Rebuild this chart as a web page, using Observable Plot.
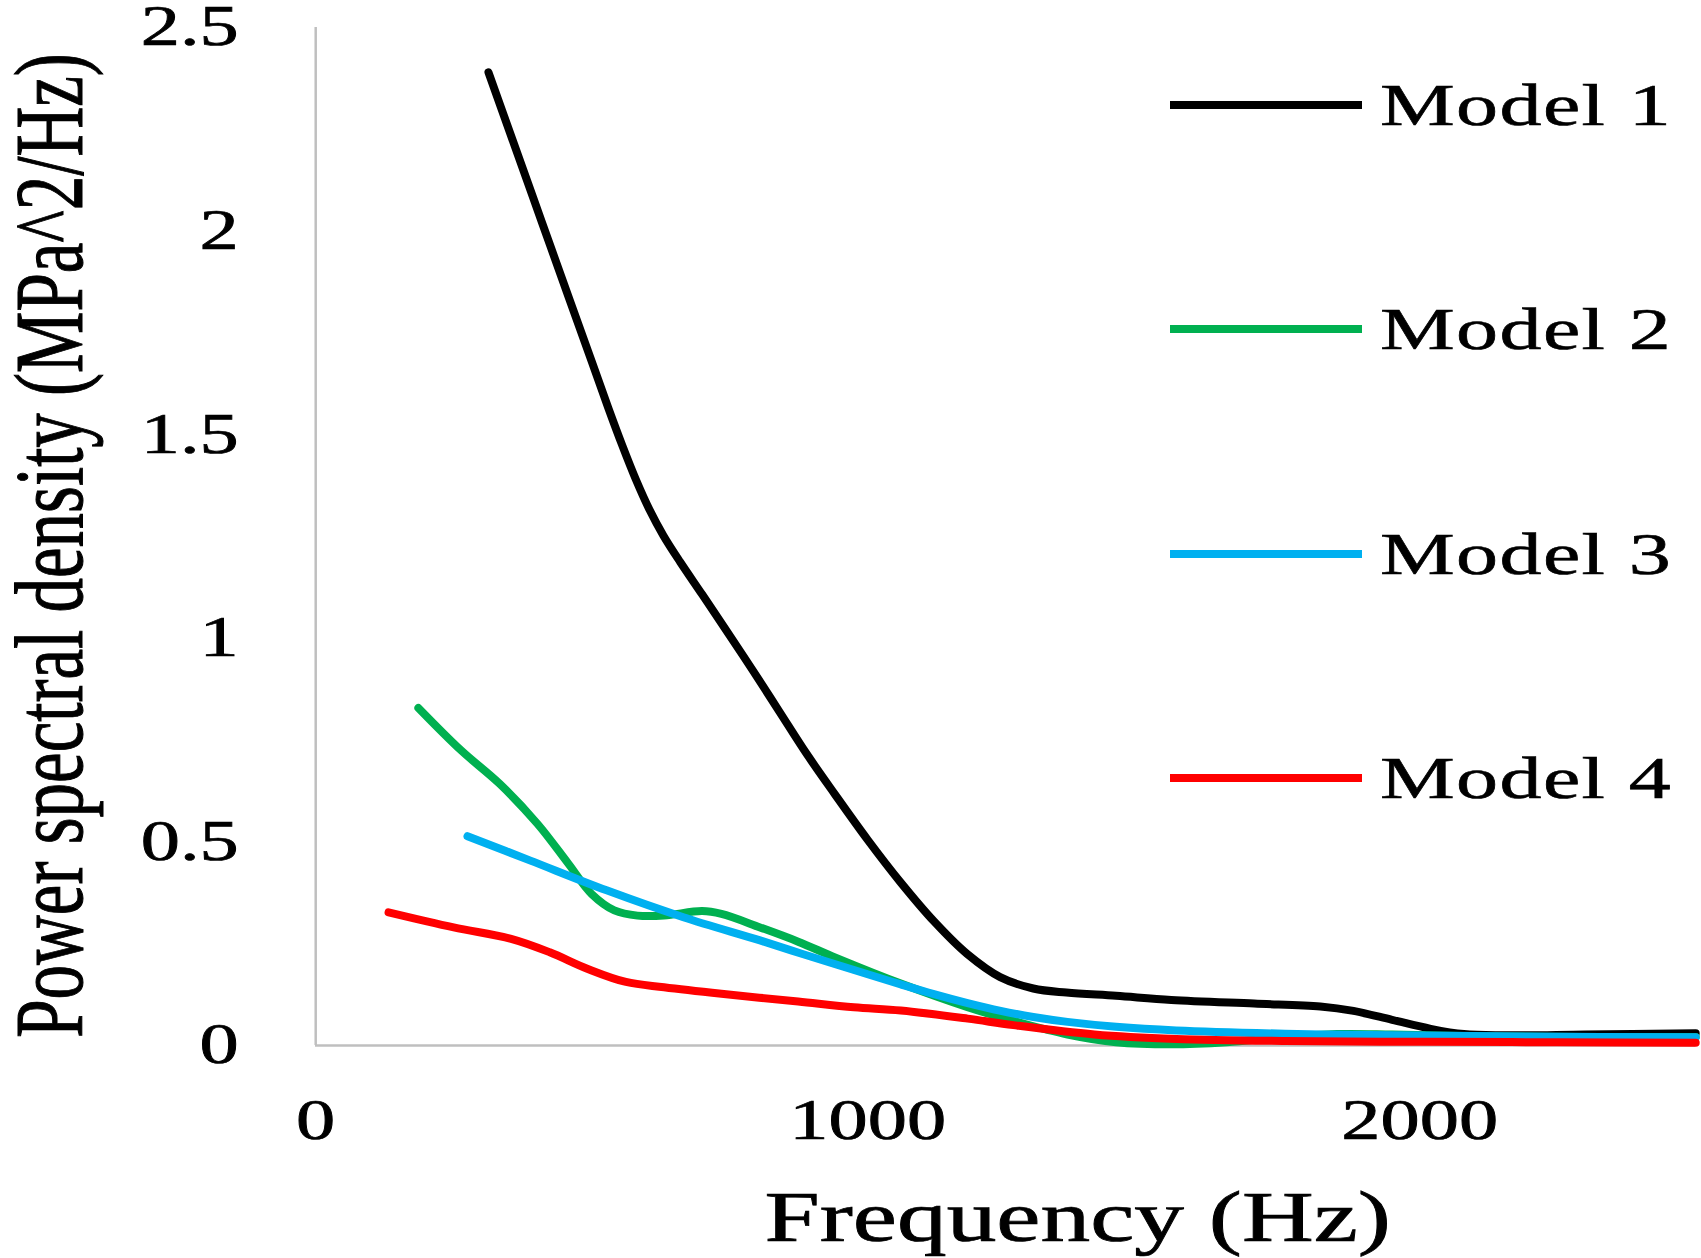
<!DOCTYPE html>
<html><head><meta charset="utf-8">
<script src="https://cdn.jsdelivr.net/npm/d3@7"></script>
<script src="https://cdn.jsdelivr.net/npm/@observablehq/plot@0.6"></script>
<style>
body{margin:0;background:#fff;}
#wrap{position:relative;width:1701px;height:1258px;overflow:hidden;background:#fff;}
#wrap svg text{stroke:#000;stroke-width:0.9px;paint-order:stroke;}
#legend{position:absolute;left:1170px;top:75px;}
#legend .leg-swatches{font-family:"Liberation Serif","Times New Roman",serif;font-size:60px;color:#000;margin:0;}
#legend .leg-swatch{height:60px;margin-bottom:164.3px;padding:0;display:flex;align-items:center;white-space:nowrap;}
#legend .leg-swatch > svg{margin-right:18px;border-radius:4px;}
#legend .leg-swatch-label{overflow:visible;transform:scaleX(1.4);transform-origin:left center;letter-spacing:1px;line-height:60px;-webkit-text-stroke:0.6px #000;}
</style></head>
<body><div id="wrap"><div id="legend"></div></div>
<script>
const models = ["Model 1", "Model 2", "Model 3", "Model 4"];
const colors = ["#000000", "#00b050", "#00b0f0", "#ff0000"];

const model1Freq = [313,360,410,460,500,530,555,580,605,630,660,700,740,790,840,890,940,1000,1060,1120,1180,1240,1300,1360,1450,1550,1700,1820,1880,1950,2020,2080,2150,2300,2500];
const model1Psd  = [2.39,2.211,2.021,1.831,1.68,1.566,1.475,1.39,1.315,1.252,1.188,1.108,1.027,0.925,0.82,0.715,0.618,0.505,0.40,0.305,0.225,0.168,0.140,0.130,0.122,0.112,0.103,0.096,0.085,0.063,0.041,0.028,0.025,0.027,0.030];

const model2Freq = [186,264,333,402,458,500,541,583,631,700,735,805,874,943,1060,1181,1271,1362,1450,1550,1650,1750,1850,1950,2100,2300,2500];
const model2Psd  = [0.829,0.724,0.643,0.544,0.446,0.372,0.332,0.319,0.319,0.330,0.323,0.290,0.255,0.215,0.152,0.094,0.058,0.027,0.008,0.003,0.008,0.020,0.028,0.027,0.023,0.021,0.021];

const model3Freq = [275,389,527,666,805,879,943,1000,1060,1120,1181,1241,1300,1362,1450,1559,1756,1952,2200,2500];
const model3Psd  = [0.514,0.454,0.381,0.315,0.258,0.226,0.199,0.175,0.150,0.126,0.104,0.085,0.070,0.058,0.046,0.037,0.029,0.025,0.022,0.020];

const model4Freq = [132,250,354,424,493,562,631,735,874,975,1060,1181,1264,1411,1559,1756,2000,2250,2500];
const model4Psd  = [0.327,0.290,0.262,0.229,0.188,0.156,0.143,0.127,0.108,0.094,0.086,0.066,0.050,0.027,0.016,0.011,0.009,0.008,0.007];

const xTicks = [0, 1000, 2000];
const xTickLabels = ["0", "1000", "2000"];
const yTicks = [0, 0.5, 1, 1.5, 2, 2.5];
const yTickLabels = ["0", "0.5", "1", "1.5", "2", "2.5"];
const xTitle = "Frequency (Hz)";
const yTitle = "Power spectral density (MPa^2/Hz)";

const series = [[model1Freq, model1Psd], [model2Freq, model2Psd], [model3Freq, model3Psd], [model4Freq, model4Psd]];
const rows = [];
series.forEach(([fs, vs], k) => fs.forEach((f, i) => rows.push({model: models[k], f, v: vs[i]})));

const sx = 1.4;           // horizontal stretch of the original figure
const W = 1701, H = 1258;
const Wc = W / sx;
const font = '"Liberation Serif", "Times New Roman", serif';

const chart = Plot.plot({
  width: Wc, height: H,
  marginLeft: 315 / sx, marginRight: (W - 1695) / sx, marginTop: 27, marginBottom: H - 1045,
  style: {fontFamily: font, fontSize: "56px", color: "#000", background: "#fff", overflow: "visible"},
  x: {domain: [0, 2500]},
  y: {domain: [0, 2.5]},
  color: {domain: models, range: colors},
  marks: [
    Plot.ruleY([0], {stroke: "#bfbfbf", strokeWidth: 2.5}),
    Plot.ruleX([0], {stroke: "#bfbfbf", strokeWidth: 2.5}),
    Plot.axisX(xTicks, {tickSize: 0, tickPadding: 54, fontSize: 56, tickFormat: d => xTickLabels[xTicks.indexOf(d)], label: null}),
    Plot.axisY(yTicks, {tickSize: 0, tickPadding: 55, fontSize: 56, tickFormat: d => yTickLabels[yTicks.indexOf(d)], label: null}),
    Plot.line(rows, {x: "f", y: "v", z: "model", stroke: "model", strokeWidth: 8, curve: "catmull-rom"}),
    Plot.text([xTitle], {frameAnchor: "bottom", dx: 72 / sx, dy: 195, lineAnchor: "bottom", textAnchor: "middle", fontSize: 71}),
    Plot.text([yTitle], {frameAnchor: "left", rotate: -90, dx: (81 - 315) / sx, dy: 9, lineAnchor: "bottom", textAnchor: "middle", fontSize: 69})
  ]
});
chart.setAttribute("width", W);
chart.setAttribute("height", H);
chart.setAttribute("viewBox", `0 0 ${Wc} ${H}`);
chart.setAttribute("preserveAspectRatio", "none");
chart.style.width = W + "px";
chart.style.height = H + "px";
chart.style.maxWidth = "none";
chart.querySelectorAll("path, line, text").forEach(e => e.setAttribute("vector-effect", "non-scaling-stroke"));
document.getElementById("wrap").insertBefore(chart, document.getElementById("legend"));

const legend = Plot.legend({
  color: {domain: models, range: colors},
  legend: "swatches", columns: 1, swatchWidth: 192, swatchHeight: 8, className: "leg"
});
document.getElementById("legend").appendChild(legend);
</script>
</body></html>
